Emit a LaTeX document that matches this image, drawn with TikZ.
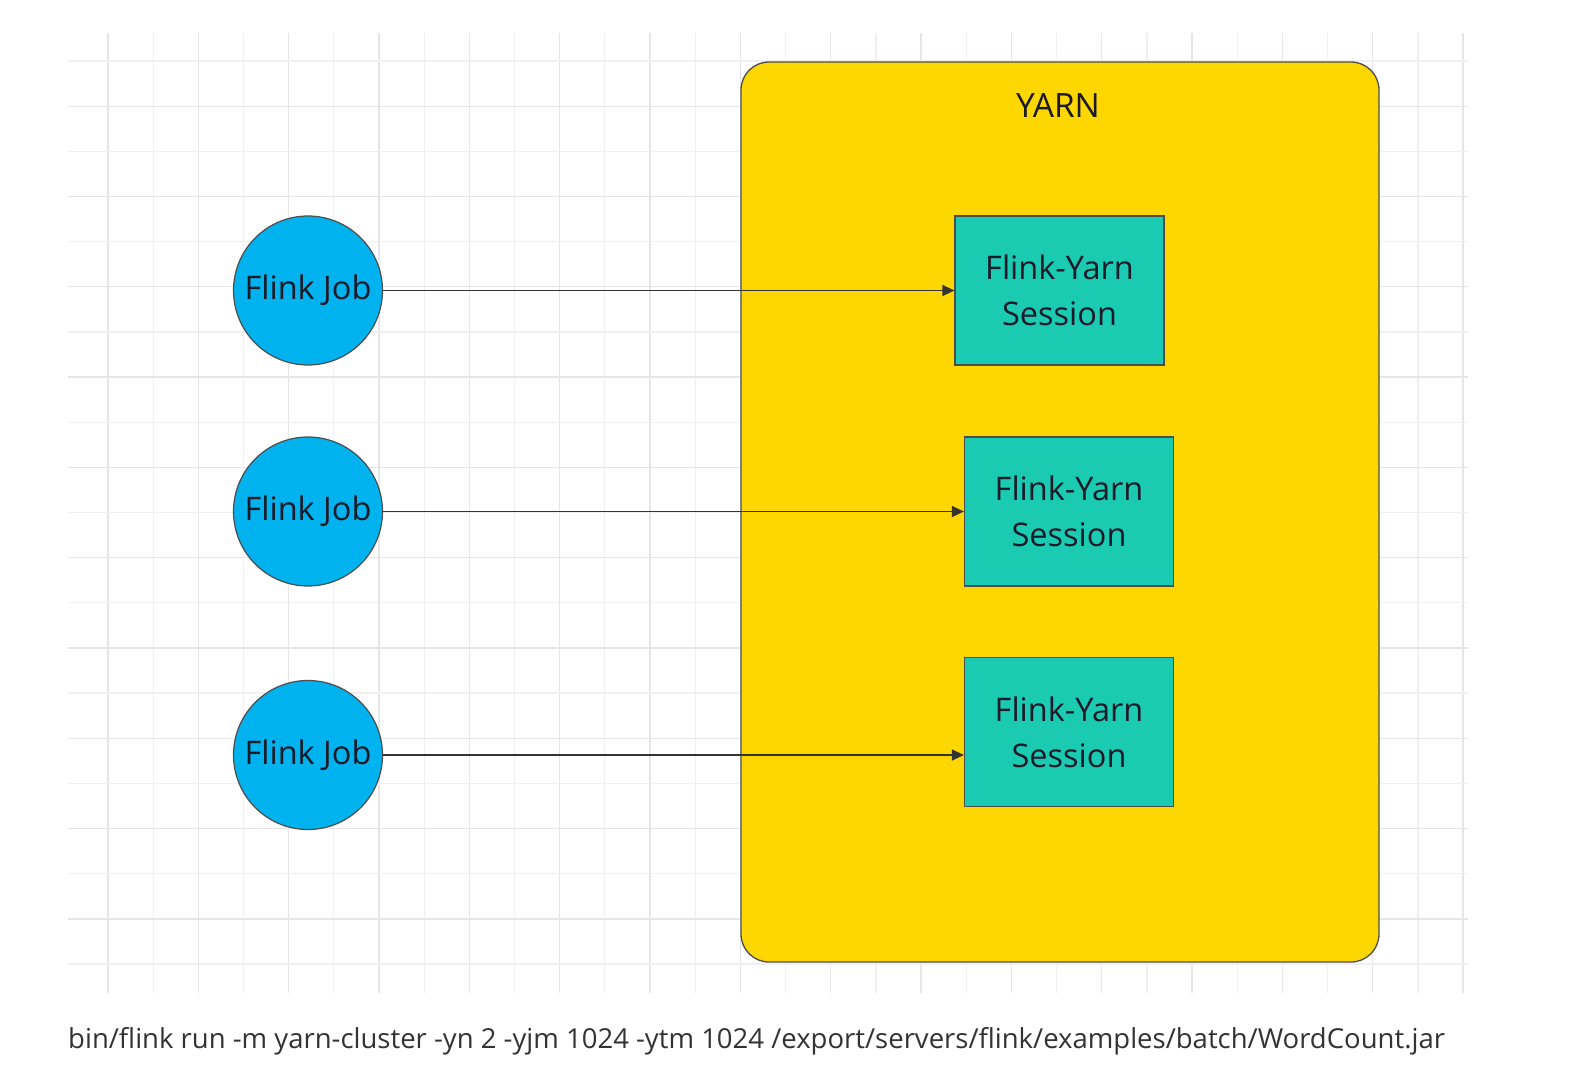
\documentclass[tikz,border=0pt]{standalone}
\usepackage{fontspec}
\setmainfont{Open Sans}
\usetikzlibrary{arrows.meta}
\definecolor{gridA}{HTML}{E6E6E6}
\definecolor{gridB}{HTML}{F0F0F0}
\definecolor{yarnfill}{HTML}{FFD700}
\definecolor{jobfill}{HTML}{00B2EE}
\definecolor{sessfill}{HTML}{1ACBB2}
\definecolor{edgecol}{HTML}{4D4D4D}
\definecolor{txtcol}{HTML}{1A1A28}
\definecolor{cmdcol}{HTML}{333333}
\begin{document}
\begin{tikzpicture}[x=1pt,y=-1pt,
  gridline/.style={line width=1.3pt},
  jobnode/.style={circle, draw=edgecol, line width=1.2pt, fill=jobfill, minimum size=149pt, inner sep=0pt, text=txtcol, font=\fontsize{32.5}{46}\selectfont},
  sessnode/.style={rectangle, draw=edgecol, line width=1.2pt, fill=sessfill, minimum width=209pt, minimum height=149pt, inner sep=0pt, text=txtcol, align=center, font=\fontsize{32.5}{46}\selectfont},
  conn/.style={draw=cmdcol, line width=1.3pt, -{Triangle[length=12pt,width=11pt]}},
]
\useasboundingbox (0,0) rectangle (1574,1068);
\fill[white] (0,0) rectangle (1574,1068);
% grid
\foreach \k in {0,2,...,30} { \draw[gridline, gridA] ({108+45.167*\k},33) -- ({108+45.167*\k},993); }
\foreach \k in {1,3,...,29} { \draw[gridline, gridB] ({108+45.167*\k},33) -- ({108+45.167*\k},993); }
\foreach \k in {1,3,...,19} { \draw[gridline, gridA] (68,{61+45.15*\k}) -- (1468,{61+45.15*\k}); }
\foreach \k in {0,2,...,20} { \draw[gridline, gridB] (68,{61+45.15*\k}) -- (1468,{61+45.15*\k}); }
% YARN container
\node[draw=edgecol, line width=1.3pt, fill=yarnfill, rounded corners=28pt, minimum width=638pt, minimum height=900pt, inner sep=0pt] (yarn) at (1060,512) {};
\node[text=txtcol, font=\fontsize{33.5}{46}\selectfont, anchor=base] (yarnlabel) at (1058,117) {YARN};
% jobs
\node[jobnode] (j1) at (308,290.5) {Flink Job};
\node[jobnode] (j2) at (308,511.5) {Flink Job};
\node[jobnode] (j3) at (308,755) {Flink Job};
% sessions
\node[sessnode] (s1) at (1059.5,290.5) {Flink-Yarn\\Session};
\node[sessnode] (s2) at (1069,511.5) {Flink-Yarn\\Session};
\node[sessnode] (s3) at (1069,732) {Flink-Yarn\\Session};
% connectors
\draw[conn] (j1.east) -- (j1.east -| s1.west);
\draw[conn] (j2.east) -- (j2.east -| s2.west);
\draw[conn] (j3.east) -- (j3.east -| s3.west);
% command
\node[anchor=base west, inner sep=0pt, text=cmdcol, font=\fontsize{27.5}{32}\selectfont] (cmd) at (68,1048) {bin/flink run -m yarn-cluster -yn 2 -yjm 1024 -ytm 1024 /export/servers/flink/examples/batch/WordCount.jar};
\end{tikzpicture}
\end{document}
